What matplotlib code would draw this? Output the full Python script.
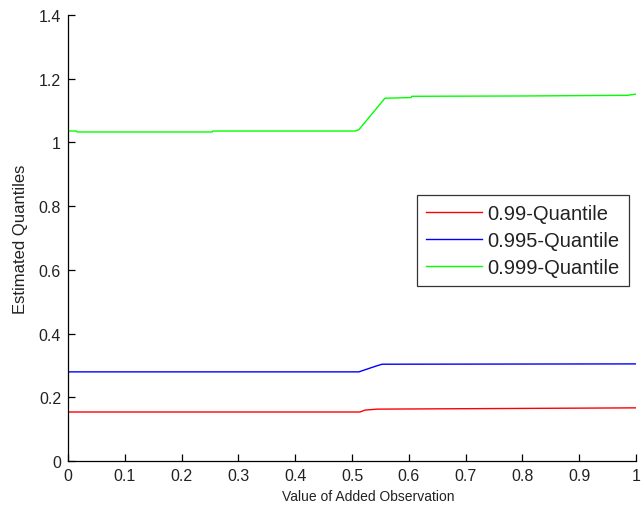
import matplotlib
matplotlib.use("Agg")
import matplotlib.pyplot as plt
from matplotlib.ticker import FuncFormatter

plt.rcParams['font.family'] = ['Liberation Sans', 'DejaVu Sans']

# estimated quantiles vs. value of the added observation
x_q99 = [0.0, 0.514, 0.523, 0.544, 1.0]
y_q99 = [0.154, 0.154, 0.160, 0.163, 0.167]

x_q995 = [0.0, 0.512, 0.522, 0.532, 0.542, 0.553, 1.0]
y_q995 = [0.280, 0.280, 0.286, 0.292, 0.298, 0.304, 0.305]

x_q999 = [0.0, 0.015, 0.016, 0.254, 0.255, 0.505, 0.512, 0.558, 0.604, 0.605, 0.80, 0.985, 1.0]
y_q999 = [1.036, 1.036, 1.033, 1.033, 1.036, 1.036, 1.040, 1.139, 1.141, 1.145, 1.146, 1.148, 1.152]

labels = ['0.99-Quantile', '0.995-Quantile', '0.999-Quantile']
colors = ['#ff0000', '#0000ff', '#00ff00']

fig = plt.figure(figsize=(6.44, 5.10), dpi=100)
ax = fig.add_axes([0.1056, 0.094, 0.882, 0.8745])

ax.plot(x_q99, y_q99, color=colors[0], lw=1.0, label=labels[0])
ax.plot(x_q995, y_q995, color=colors[1], lw=1.0, label=labels[1])
ax.plot(x_q999, y_q999, color=colors[2], lw=1.0, label=labels[2])

ax.set_xlim(0, 1)
ax.set_ylim(0, 1.4)
ax.set_xticks([i / 10 for i in range(11)])
ax.set_yticks([i / 5 for i in range(8)])
fmt = FuncFormatter(lambda v, p: '%g' % round(v, 3))
ax.xaxis.set_major_formatter(fmt)
ax.yaxis.set_major_formatter(fmt)

ax.spines['top'].set_visible(False)
ax.spines['right'].set_visible(False)
for s in ('left', 'bottom'):
    ax.spines[s].set_linewidth(0.9)
ax.tick_params(direction='in', length=5, width=0.9, labelsize=11.5, pad=5,
               labelcolor='#222222')

ax.set_xlabel('Value of Added Observation', fontsize=10, labelpad=5, color='#222222')
ax.xaxis.set_label_coords(0.528, -0.062)
ax.set_ylabel('Estimated Quantiles', fontsize=12, labelpad=8, color='#222222')

leg = ax.legend(loc='upper left', bbox_to_anchor=(0.614, 0.596), fontsize=14.5,
                frameon=True, fancybox=False, handlelength=2.8, handletextpad=0.25,
                borderpad=0.45, labelspacing=0.38, borderaxespad=0)
leg.get_frame().set_edgecolor('black')
leg.get_frame().set_linewidth(0.9)
for t in leg.get_texts():
    t.set_color('#222222')

fig.savefig('out.png', dpi=100)
